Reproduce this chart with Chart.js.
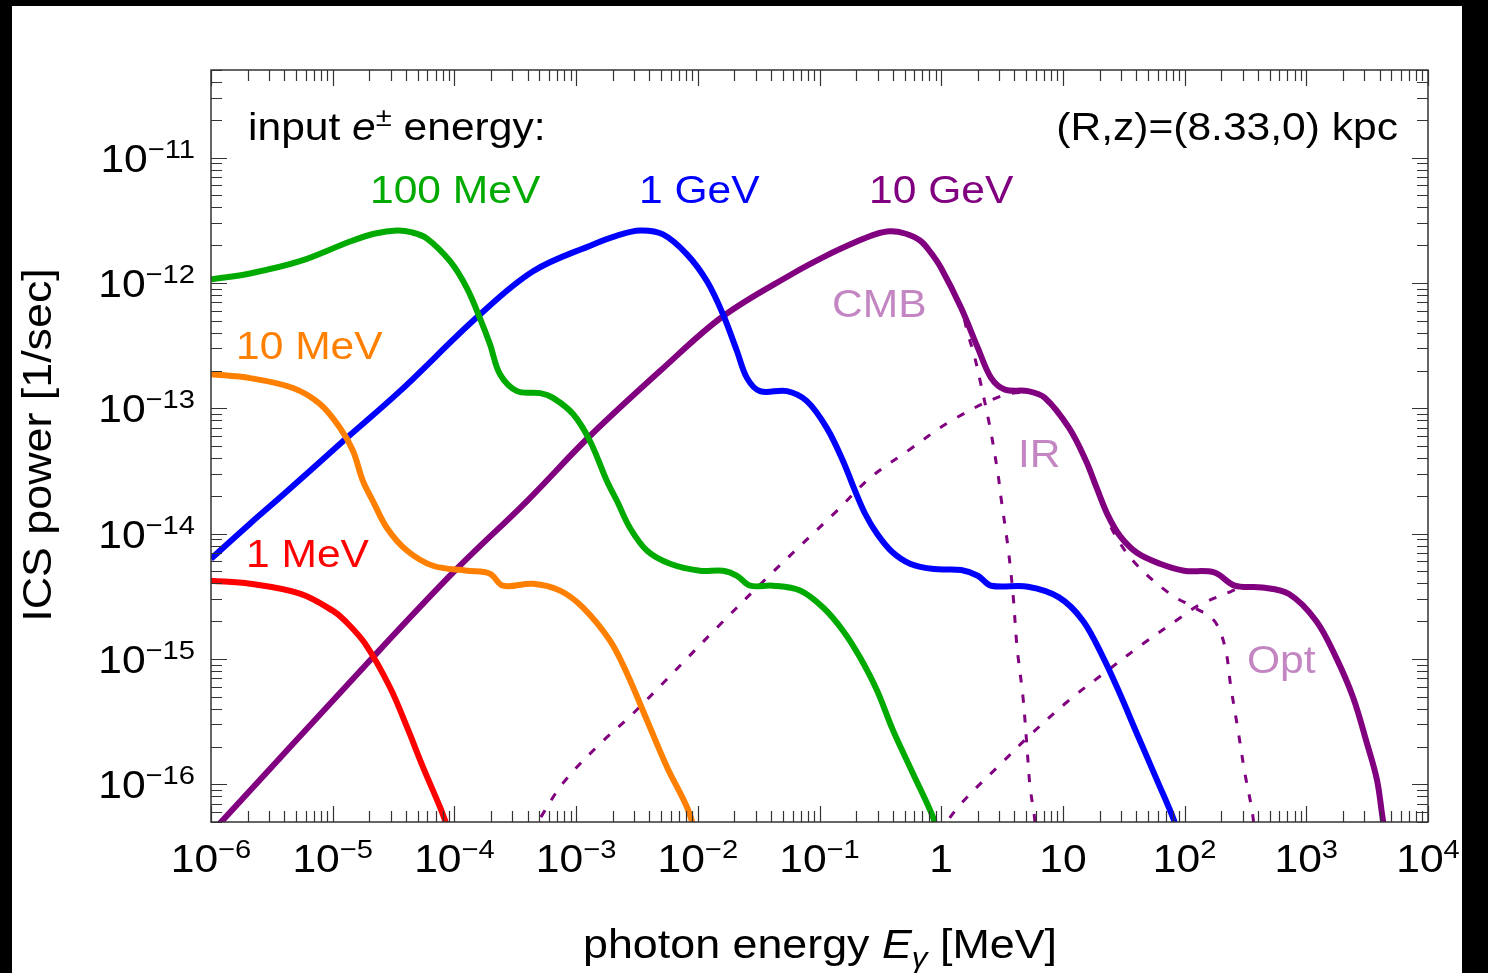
<!DOCTYPE html>
<html>
<head>
<meta charset="utf-8">
<style>
  html, body { margin: 0; padding: 0; background: #000; }
  #wrap { position: absolute; left: 0; top: 0; width: 1488px; height: 973px; }
</style>
<script src="https://cdn.jsdelivr.net/npm/chart.js@4.4.0/dist/chart.umd.min.js"></script>
</head>
<body>
<div id="wrap"><canvas id="myChart" width="1488" height="973"></canvas></div>
<script>
// photon energy [MeV] and ICS power [1/sec]
const redE = [1e-6, 2.09e-6, 5.38e-6, 1.0e-5, 1.26e-5, 1.84e-5, 2.96e-5, 4.09e-5, 5.52e-5, 7.62e-5, 9.21e-5];
const redP = [4.21e-15, 3.98e-15, 3.32e-15, 2.43e-15, 2.02e-15, 1.33e-15, 5.92e-16, 2.84e-16, 1.37e-16, 6.56e-17, 4.0e-17];

const orangeE = [1e-6, 2.09e-6, 4.72e-6, 7.87e-6, 1.15e-5, 1.47e-5, 1.77e-5, 2.14e-5, 2.79e-5, 4.09e-5, 6.67e-5, 1.27e-4, 1.96e-4, 2.51e-4, 4.43e-4, 7.38e-4, 1.14e-3, 1.90e-3, 2.62e-3, 3.83e-3, 5.59e-3, 8.15e-3, 9.66e-3];
const orangeP = [1.87e-13, 1.74e-13, 1.45e-13, 1.08e-13, 6.95e-14, 4.56e-14, 2.63e-14, 1.82e-14, 1.11e-14, 7.30e-15, 5.54e-15, 5.06e-15, 4.79e-15, 3.84e-15, 3.98e-15, 3.51e-15, 2.57e-15, 1.40e-15, 7.65e-16, 3.23e-16, 1.37e-16, 6.56e-17, 4.0e-17];

const greenE = [1e-6, 2.09e-6, 5.38e-6, 1.39e-5, 2.23e-5, 3.37e-5, 4.49e-5, 5.96e-5, 9.21e-5, 1.27e-4, 1.62e-4, 1.96e-4, 2.37e-4, 3.27e-4, 5.05e-4, 6.46e-4, 9.44e-4, 1.30e-3, 1.79e-3, 2.17e-3, 2.77e-3, 3.83e-3, 5.92e-3, 1.04e-2, 1.61e-2, 2.10e-2, 2.69e-2, 4.15e-2, 6.92e-2, 0.107, 0.156, 0.215, 0.297, 0.402, 0.586, 0.857, 0.923];
const greenP = [1.07e-12, 1.19e-12, 1.49e-12, 2.14e-12, 2.48e-12, 2.62e-12, 2.53e-12, 2.26e-12, 1.49e-12, 9.06e-13, 5.23e-13, 3.24e-13, 1.87e-13, 1.37e-13, 1.32e-13, 1.21e-13, 8.99e-14, 5.48e-14, 2.63e-14, 1.82e-14, 1.11e-14, 7.30e-15, 5.75e-15, 5.06e-15, 5.06e-15, 4.61e-15, 3.84e-15, 3.84e-15, 3.51e-15, 2.57e-15, 1.68e-15, 1.03e-15, 5.60e-16, 2.69e-16, 1.22e-16, 5.46e-17, 4.0e-17];

const blueE = [1e-6, 2.09e-6, 3.91e-6, 1.22e-5, 3.57e-5, 1.53e-4, 4.43e-4, 1.38e-3, 2.17e-3, 3.35e-3, 5.18e-3, 8.15e-3, 1.19e-2, 1.61e-2, 2.10e-2, 2.54e-2, 3.24e-2, 5.41e-2, 7.88e-2, 0.115, 0.156, 0.196, 0.237, 0.297, 0.394, 0.555, 0.873, 1.46, 2.00, 2.57, 5.17, 9.29, 14.6, 21.4, 29.4, 40.6, 59.3, 81.8, 86.6];
const blueP = [6.30e-15, 1.20e-14, 2.04e-14, 5.48e-14, 1.37e-13, 5.32e-13, 1.24e-12, 2.03e-12, 2.39e-12, 2.62e-12, 2.44e-12, 1.69e-12, 1.03e-12, 5.62e-13, 2.85e-13, 1.74e-13, 1.37e-13, 1.37e-13, 1.14e-13, 6.95e-14, 3.80e-14, 2.19e-14, 1.44e-14, 9.96e-15, 7.16e-15, 5.75e-15, 5.21e-15, 5.12e-15, 4.61e-15, 3.84e-15, 3.77e-15, 3.10e-15, 2.02e-15, 1.03e-15, 5.27e-16, 2.53e-16, 1.08e-16, 5.17e-17, 4.0e-17];

const purpleE = [1e-6, 2.02e-5, 1.01e-4, 3.95e-4, 1.25e-3, 4.89e-3, 1.61e-2, 6.05e-2, 0.115, 0.196, 0.286, 0.379, 0.504, 0.670, 0.809, 1.0, 1.46, 2.00, 2.57, 3.34, 5.17, 7.13, 11.2, 15.5, 19.1, 23.5, 29.4, 40.6, 62.8, 98.9, 175, 259, 433, 721, 1202, 1754, 2421, 3155, 3811, 4266, 4520];
const purpleP = [4.08e-17, 9.71e-16, 5.06e-15, 1.82e-14, 5.79e-14, 1.98e-13, 5.42e-13, 1.19e-12, 1.66e-12, 2.11e-12, 2.44e-12, 2.58e-12, 2.48e-12, 2.18e-12, 1.78e-12, 1.31e-12, 6.31e-13, 3.03e-13, 1.75e-13, 1.41e-13, 1.37e-13, 1.21e-13, 7.00e-14, 3.80e-14, 2.27e-14, 1.39e-14, 9.6e-15, 7.03e-15, 5.75e-15, 5.06e-15, 4.90e-15, 3.84e-15, 3.72e-15, 3.30e-15, 2.02e-15, 1.03e-15, 4.95e-16, 2.11e-16, 1.08e-16, 5.17e-17, 4.0e-17];

// 10 GeV components (dotted)
const cmbE = [1e-6, 2.02e-5, 1.01e-4, 3.95e-4, 1.25e-3, 4.89e-3, 1.61e-2, 6.05e-2, 0.115, 0.196, 0.286, 0.379, 0.504, 0.670, 0.809, 1.0, 1.46, 1.66, 1.86, 2.12, 2.52, 2.93, 3.10, 3.54, 3.89, 4.20, 4.70, 5.07, 5.37, 5.79, 6.01];
const cmbP = [4.08e-17, 9.71e-16, 5.06e-15, 1.82e-14, 5.79e-14, 1.98e-13, 5.42e-13, 1.19e-12, 1.66e-12, 2.11e-12, 2.44e-12, 2.58e-12, 2.48e-12, 2.18e-12, 1.78e-12, 1.30e-12, 6.2e-13, 3.87e-13, 2.69e-13, 1.55e-13, 7.00e-14, 2.98e-14, 1.94e-14, 7.75e-15, 3.30e-15, 1.24e-15, 4.95e-16, 1.98e-16, 9.52e-17, 5.85e-17, 4.0e-17];

const irE = [4.18e-4, 4.78e-4, 7.80e-4, 1.57e-3, 2.94e-3, 1.44e-2, 3.71e-2, 0.139, 0.260, 0.555, 1.20, 3.10, 5.17, 7.13, 11.2, 15.5, 21.4, 24.4, 37.7, 75.9, 119, 175, 215, 240, 275, 313, 358, 378];
const irP = [4.0e-17, 4.89e-17, 1.02e-16, 2.1e-16, 3.67e-16, 1.78e-15, 4.45e-15, 1.52e-14, 2.78e-14, 4.71e-14, 7.91e-14, 1.25e-13, 1.33e-13, 1.18e-13, 6.8e-14, 3.7e-14, 1.77e-14, 1.16e-14, 6.07e-15, 3.30e-15, 2.58e-15, 2.02e-15, 1.24e-15, 5.96e-16, 2.69e-16, 1.22e-16, 6.21e-17, 4.0e-17];

const optE = [0.94, 1.46, 3.10, 5.17, 11.2, 21.4, 45.5, 93.3, 129, 240, 290, 433, 721, 1202, 1754, 2421, 3155, 3811, 4266, 4520];
const optP = [4.0e-17, 7.02e-17, 1.46e-16, 2.38e-16, 4.67e-16, 7.60e-16, 1.32e-15, 2.15e-15, 2.66e-15, 3.45e-15, 3.7e-15, 3.65e-15, 3.25e-15, 1.98e-15, 1.01e-15, 4.9e-16, 2.08e-16, 1.06e-16, 5.1e-17, 4.0e-17];

// axes
const xMin = 1e-6, xMax = 1e4;
const yMin = 5e-17, yMax = 5e-11;
const xDecades = [-6, -5, -4, -3, -2, -1, 0, 1, 2, 3, 4];
const yDecades = [-16, -15, -14, -13, -12, -11];

const FONT = "'Liberation Sans', Arial, sans-serif";
const SX = 1.12; // the original lettering runs a little wider than Liberation Sans

function pts(xs, ys) {
  return xs.map((x, i) => ({ x: x, y: ys[i] }));
}

function solid(label, xs, ys, color) {
  return {
    label: label,
    data: pts(xs, ys),
    borderColor: color,
    borderWidth: 6,
    pointRadius: 0,
    fill: false,
    tension: 0.35,
    borderJoinStyle: "round",
    order: 1,
  };
}

function dotted(label, xs, ys) {
  return {
    label: label,
    data: pts(xs, ys),
    borderColor: "#800080",
    borderWidth: 3,
    borderDash: [8, 12],
    pointRadius: 0,
    fill: false,
    tension: 0.35,
    order: 5,
  };
}

// draws text made of several runs (superscripts, italics)
function drawRich(ctx, parts, x, y, align) {
  let w = 0;
  parts.forEach((p) => {
    ctx.font = p.font;
    p.w = ctx.measureText(p.text).width * SX;
    w += p.w;
  });
  let cx = align === "right" ? x - w : align === "center" ? x - w / 2 : x;
  ctx.textAlign = "left";
  ctx.textBaseline = "alphabetic";
  parts.forEach((p) => {
    ctx.font = p.font;
    if (p.color) ctx.fillStyle = p.color;
    ctx.save();
    ctx.translate(cx, y + (p.dy || 0));
    ctx.scale(SX, 1);
    ctx.fillText(p.text, 0, 0);
    ctx.restore();
    cx += p.w;
  });
}

function powLabel(exp) {
  if (exp === 0) return [{ text: "1", font: "38px " + FONT }];
  if (exp === 1) return [{ text: "10", font: "38px " + FONT }];
  const sup = (exp < 0 ? "\u2212" : "") + Math.abs(exp);
  return [
    { text: "10", font: "38px " + FONT },
    { text: sup, font: "26px " + FONT, dy: -14 },
  ];
}

const framePlugin = {
  id: "frame",
  beforeDraw(chart) {
    const ctx = chart.ctx;
    ctx.save();
    ctx.fillStyle = "#000";
    ctx.fillRect(0, 0, chart.width, chart.height);
    ctx.fillStyle = "#fff";
    ctx.fillRect(12, 6, 1450, chart.height - 6);
    ctx.restore();
  },
  afterDraw(chart) {
    const ctx = chart.ctx;
    const a = chart.chartArea;
    const xs = chart.scales.x;
    const ys = chart.scales.y;
    ctx.save();

    // frame ticks, all four sides, pointing inward
    ctx.strokeStyle = "#333";
    ctx.lineWidth = 1.2;
    ctx.beginPath();
    for (let d = -6; d <= 4; d++) {
      for (let m = 1; m <= 9; m++) {
        const v = m * Math.pow(10, d);
        if (v < xMin * 0.999 || v > xMax * 1.001) continue;
        const px = Math.round(xs.getPixelForValue(v)) + 0.5;
        const len = m === 1 ? 16 : 11;
        ctx.moveTo(px, a.bottom);
        ctx.lineTo(px, a.bottom - len);
        ctx.moveTo(px, a.top);
        ctx.lineTo(px, a.top + len);
      }
    }
    for (let d = -17; d <= -11; d++) {
      for (let m = 1; m <= 9; m++) {
        const v = m * Math.pow(10, d);
        if (v < yMin || v > yMax) continue;
        const py = Math.round(ys.getPixelForValue(v)) + 0.5;
        const len = m === 1 ? 16 : 11;
        ctx.moveTo(a.left, py);
        ctx.lineTo(a.left + len, py);
        ctx.moveTo(a.right, py);
        ctx.lineTo(a.right - len, py);
      }
    }
    ctx.stroke();

    ctx.lineWidth = 1.5;
    ctx.strokeRect(a.left, a.top, a.right - a.left, a.bottom - a.top);

    // tick labels
    ctx.fillStyle = "#000";
    xDecades.forEach((d) => {
      drawRich(ctx, powLabel(d), xs.getPixelForValue(Math.pow(10, d)), 872, "center");
    });
    yDecades.forEach((d) => {
      drawRich(ctx, powLabel(d), 195, ys.getPixelForValue(Math.pow(10, d)) + 14, "right");
    });

    // axis titles
    const big = "40px " + FONT;
    drawRich(ctx, [
      { text: "photon energy ", font: big },
      { text: "E", font: "italic " + big },
      { text: "\u03b3", font: "italic 28px " + FONT, dy: 9 },
      { text: " [MeV]", font: big },
    ], 820, 958, "center");

    ctx.save();
    ctx.translate(51, 445);
    ctx.rotate(-Math.PI / 2);
    drawRich(ctx, [{ text: "ICS power [1/sec]", font: big }], 0, 0, "center");
    ctx.restore();

    // annotations
    const f = "38px " + FONT;
    drawRich(ctx, [
      { text: "input ", font: f, color: "#000" },
      { text: "e", font: "italic " + f },
      { text: "\u00b1", font: "26px " + FONT, dy: -14 },
      { text: " energy:", font: f },
    ], 248, 140, "left");
    drawRich(ctx, [{ text: "(R,z)=(8.33,0) kpc", font: f, color: "#000" }], 1398, 140, "right");
    drawRich(ctx, [{ text: "100 MeV", font: f, color: "#00aa00" }], 370, 203, "left");
    drawRich(ctx, [{ text: "1 GeV", font: f, color: "#0000ff" }], 639, 203, "left");
    drawRich(ctx, [{ text: "10 GeV", font: f, color: "#800080" }], 869, 203, "left");
    drawRich(ctx, [{ text: "10 MeV", font: f, color: "#ff8000" }], 236, 359, "left");
    drawRich(ctx, [{ text: "1 MeV", font: f, color: "#ff0000" }], 246, 567, "left");
    drawRich(ctx, [{ text: "CMB", font: f, color: "#c386c3" }], 832, 317, "left");
    drawRich(ctx, [{ text: "IR", font: f, color: "#c386c3" }], 1018, 467, "left");
    drawRich(ctx, [{ text: "Opt", font: f, color: "#c386c3" }], 1247, 673, "left");

    ctx.restore();
  },
};

const ctx = document.getElementById("myChart");

new Chart(ctx, {
  type: "line",
  data: {
    datasets: [
      solid("1 MeV", redE, redP, "#ff0000"),
      solid("10 MeV", orangeE, orangeP, "#ff8000"),
      solid("100 MeV", greenE, greenP, "#00aa00"),
      solid("1 GeV", blueE, blueP, "#0000ff"),
      solid("10 GeV", purpleE, purpleP, "#800080"),
      dotted("CMB", cmbE, cmbP),
      dotted("IR", irE, irP),
      dotted("Opt", optE, optP),
    ],
  },
  options: {
    responsive: false,
    animation: false,
    devicePixelRatio: 1,
    events: [],
    layout: {
      padding: { left: 211, right: 60, top: 70, bottom: 151 },
    },
    scales: {
      x: { type: "logarithmic", min: xMin, max: xMax, display: false },
      y: { type: "logarithmic", min: yMin, max: yMax, display: false },
    },
    plugins: {
      legend: { display: false },
      tooltip: { enabled: false },
    },
  },
  plugins: [framePlugin],
});
</script>
</body>
</html>
